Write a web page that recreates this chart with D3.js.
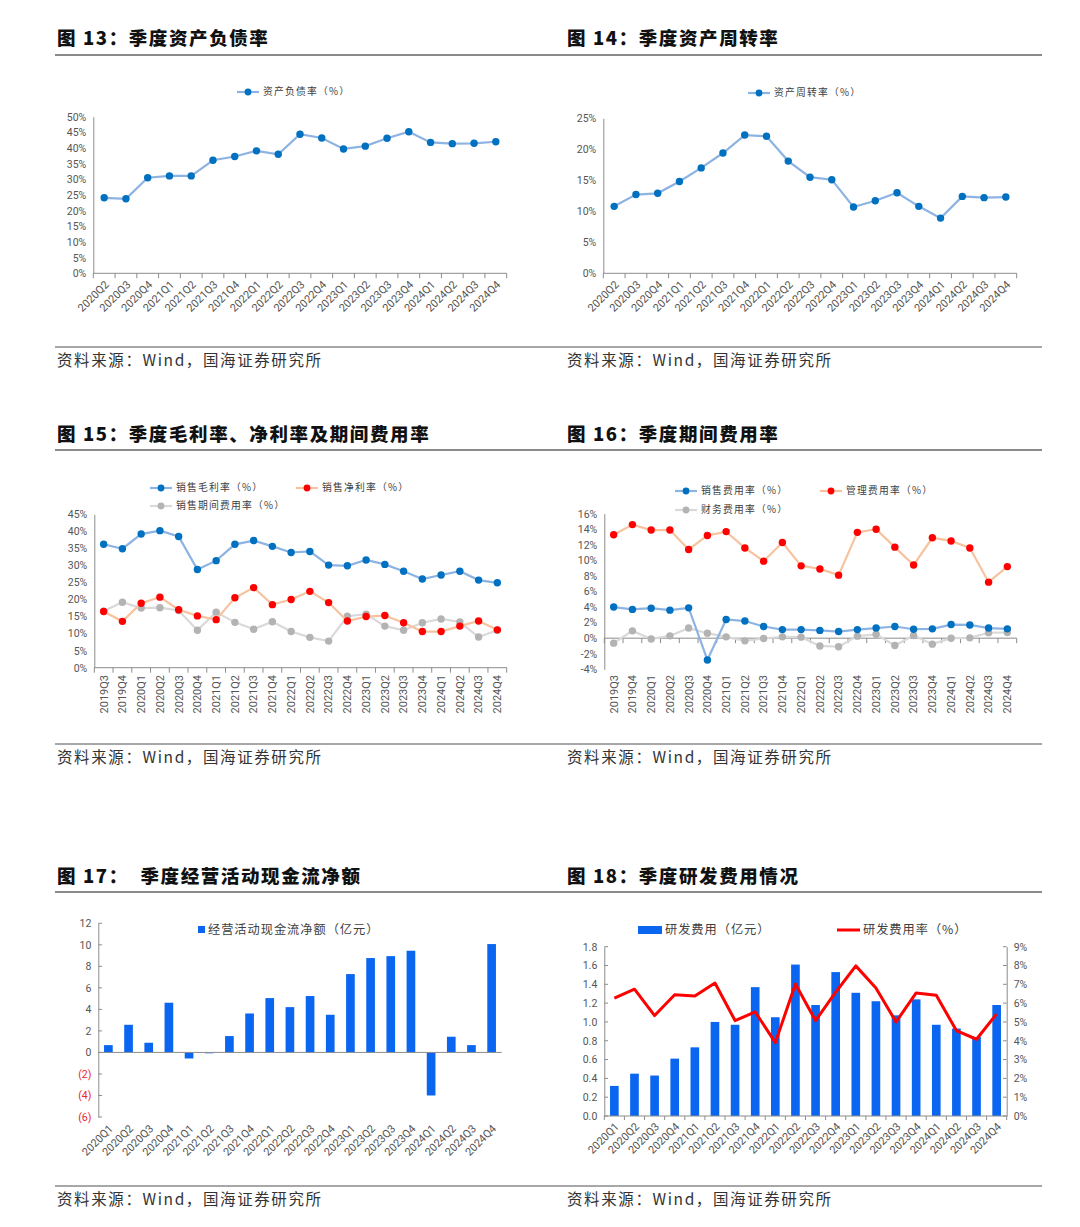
<!DOCTYPE html>
<html><head><meta charset="utf-8">
<script src="https://cdn.jsdelivr.net/npm/d3@7/dist/d3.min.js"></script>
<style>
html,body{margin:0;padding:0;background:#fff;}
svg{display:block;}
</style>
</head><body>
<svg id="chart" width="1080" height="1227"></svg>
<script>
// ---------------- DATA ----------------
const quartersA = ['2020Q2','2020Q3','2020Q4','2021Q1','2021Q2','2021Q3','2021Q4','2022Q1','2022Q2','2022Q3','2022Q4','2023Q1','2023Q2','2023Q3','2023Q4','2024Q1','2024Q2','2024Q3','2024Q4'];
const quartersB = ['2019Q3','2019Q4','2020Q1','2020Q2','2020Q3','2020Q4','2021Q1','2021Q2','2021Q3','2021Q4','2022Q1','2022Q2','2022Q3','2022Q4','2023Q1','2023Q2','2023Q3','2023Q4','2024Q1','2024Q2','2024Q3','2024Q4'];
const quartersC = ['2020Q1','2020Q2','2020Q3','2020Q4','2021Q1','2021Q2','2021Q3','2021Q4','2022Q1','2022Q2','2022Q3','2022Q4','2023Q1','2023Q2','2023Q3','2023Q4','2024Q1','2024Q2','2024Q3','2024Q4'];

// Fig 13 资产负债率 (%)
const debtRatio = [24.1,23.8,30.5,31.1,31.1,36.1,37.3,39.1,38.0,44.4,43.2,39.7,40.6,43.1,45.2,41.8,41.4,41.5,42.0];
// Fig 14 资产周转率 (%)
const assetTurnover = [10.8,12.7,12.9,14.8,17.0,19.4,22.3,22.1,18.1,15.5,15.1,10.7,11.7,13.0,10.8,8.9,12.4,12.2,12.3];
// Fig 15
const grossMargin = [36.2,34.9,39.2,40.2,38.5,28.8,31.4,36.2,37.3,35.6,33.8,34.1,30.1,29.9,31.6,30.3,28.3,26.0,27.2,28.3,25.7,24.9];
const netMargin = [16.5,13.6,18.9,20.7,17.0,15.2,14.1,20.5,23.5,18.5,20.0,22.4,19.1,13.7,15.0,15.3,13.2,10.6,10.6,12.2,13.7,11.1];
const periodExpenseRatio = [16.6,19.2,17.5,17.6,16.8,11.0,16.3,13.3,11.3,13.5,10.6,8.9,7.8,15.1,15.7,12.2,11.0,13.2,14.3,13.4,9.0,11.0];
// Fig 16
const salesExpenseRatio = [4.0,3.7,3.85,3.6,3.9,-2.8,2.4,2.2,1.5,1.1,1.1,1.0,0.85,1.1,1.3,1.5,1.15,1.2,1.75,1.7,1.3,1.2];
const adminExpenseRatio = [13.3,14.6,13.9,13.9,11.4,13.2,13.7,11.6,9.9,12.3,9.3,8.9,8.1,13.6,14.0,11.7,9.4,12.9,12.5,11.6,7.2,9.2];
const financeExpenseRatio = [-0.64,0.94,-0.1,0.3,1.3,0.64,0.17,-0.34,-0.04,0.17,0.13,-1.0,-1.1,0.26,0.5,-0.94,0.34,-0.77,0.0,0.04,0.7,0.73];
// Fig 17 经营活动现金流净额 (亿元)
const operatingCashFlow = [0.68,2.57,0.9,4.62,-0.56,-0.08,1.52,3.62,5.05,4.21,5.24,3.5,7.28,8.77,8.95,9.45,-4.0,1.46,0.68,10.07];
// Fig 18
const rdExpense = [0.32,0.45,0.43,0.61,0.73,1.00,0.97,1.37,1.05,1.61,1.18,1.53,1.31,1.22,1.07,1.24,0.97,0.93,0.84,1.18];
const rdRate = [6.26,6.74,5.34,6.45,6.38,7.07,5.07,5.53,3.9,7.02,5.07,6.58,7.98,6.81,5.0,6.54,6.42,4.54,4.08,5.43];

// tick values / labels
const ticks13 = [0,5,10,15,20,25,30,35,40,45,50];
const ticks14 = [0,5,10,15,20,25];
const ticks15 = [0,5,10,15,20,25,30,35,40,45];
const ticks16 = [-4,-2,0,2,4,6,8,10,12,14,16];
const ticks17 = [-6,-4,-2,0,2,4,6,8,10,12];
const ticks17Labels = ['(6)','(4)','(2)','0','2','4','6','8','10','12'];
const ticks18L = [0,0.2,0.4,0.6,0.8,1.0,1.2,1.4,1.6,1.8];
const ticks18R = [0,1,2,3,4,5,6,7,8,9];

const titles = ['图 13：季度资产负债率','图 14：季度资产周转率','图 15：季度毛利率、净利率及期间费用率','图 16：季度期间费用率','图 17：  季度经营活动现金流净额','图 18：季度研发费用情况'];
const sourceText = '资料来源：Wind，国海证券研究所';

// ---------------- STYLE ----------------
const svg = d3.select('#chart');
const TICKFONT = 'Roboto, "Noto Sans", sans-serif';
const CJK = '"Noto Sans CJK SC", sans-serif';
const AXIS = '#8c8c8c';
const TXT = '#555555';
const BLUE_L = '#8db3e2', BLUE_M = '#0070c0';
const RED_L = '#f7c29e', RED_M = '#ff0000';
const GRAY_L = '#d9d9d9', GRAY_M = '#b3b3b3';
const BAR = '#0a66f0';

svg.append('rect').attr('width',1080).attr('height',1227).attr('fill','#fff');

// headers & sources
const headerRows = [{ty:45, ry:55}, {ty:441, ry:450}, {ty:883, ry:892}];
const sourceRows = [347, 744, 1186];
headerRows.forEach((h,i)=>{
  svg.append('line').attr('x1',55).attr('x2',1042).attr('y1',h.ry).attr('y2',h.ry)
    .attr('stroke','#8a8a8a').attr('stroke-width',1.8);
  [57,567].forEach((x,j)=>{
    svg.append('text').attr('x',x).attr('y',h.ty).text(titles[i*2+j])
      .attr('font-family',CJK).attr('font-weight',900).attr('font-size',18.5)
      .attr('letter-spacing',1.6).attr('fill','#111').style('white-space','pre');
  });
});
sourceRows.forEach(y=>{
  svg.append('line').attr('x1',55).attr('x2',1042).attr('y1',y).attr('y2',y)
    .attr('stroke','#8a8a8a').attr('stroke-width',1.5);
  [57,567].forEach(x=>{
    svg.append('text').attr('x',x).attr('y',y+19).text(sourceText)
      .attr('font-family',CJK).attr('font-size',15.5).attr('letter-spacing',1.6).attr('fill','#333');
  });
});

// ---------------- HELPERS ----------------
function bandAxisTicks(g, x, yLine, len){
  const step = x.step(); const [r0] = x.range();
  for(let i=0;i<=x.domain().length;i++){
    const xx = r0 + i*step;
    g.append('line').attr('x1',xx).attr('x2',xx).attr('y1',yLine).attr('y2',yLine+len)
      .attr('stroke',AXIS).attr('stroke-width',1);
  }
}
function yAxis(g, y, x0, vals, fmt, side, color){
  const ax = (side==='right'? d3.axisRight(y) : d3.axisLeft(y))
    .tickValues(vals).tickFormat(fmt).tickSize(0).tickPadding(7);
  const a = g.append('g').attr('transform',`translate(${x0},0)`).call(ax);
  a.select('.domain').attr('stroke',AXIS).attr('stroke-width',1);
  a.selectAll('text').attr('font-family',TICKFONT).attr('font-size',10.5).attr('fill',color||TXT);
  return a;
}
function xLabels(g, x, cats, yPos, rot, size){
  const bw = x.bandwidth();
  g.selectAll(null).data(cats).enter().append('text')
    .attr('transform',d=>`translate(${x(d)+bw/2 + (rot===-45?3:0)},${yPos}) rotate(${rot})`)
    .attr('text-anchor','end').attr('dy', rot===-90?'0.35em':'0.3em')
    .attr('font-family',TICKFONT).attr('font-size',size||11).attr('fill',TXT).text(d=>d);
}
function series(g, x, y, cats, vals, lc, mc, r){
  const bw = x.bandwidth();
  const line = d3.line().x((d,i)=>x(cats[i])+bw/2).y(d=>y(d));
  g.append('path').attr('d',line(vals)).attr('fill','none').attr('stroke',lc).attr('stroke-width',2.2);
  g.selectAll(null).data(vals).enter().append('circle')
    .attr('cx',(d,i)=>x(cats[i])+bw/2).attr('cy',d=>y(d)).attr('r',r||3.7).attr('fill',mc);
}
function legendLine(g, x, y, lc, mc, label, size){
  g.append('line').attr('x1',x).attr('x2',x+22).attr('y1',y).attr('y2',y).attr('stroke',lc).attr('stroke-width',2.2);
  if(mc) g.append('circle').attr('cx',x+11).attr('cy',y).attr('r',3.4).attr('fill',mc);
  g.append('text').attr('x',x+26).attr('y',y).attr('dy','0.35em').text(label)
    .attr('font-family',CJK).attr('font-size',size||9.8).attr('letter-spacing',1.2).attr('fill','#404040');
}
const pct = d=>d+'%';

// ---------------- FIG 13 ----------------
(function(){
  const g = svg.append('g');
  const x = d3.scaleBand().domain(quartersA).range([93.3,506.7]);
  const y = d3.scaleLinear().domain([0,50]).range([273.3,116.7]);
  yAxis(g,y,93.3,ticks13,pct);
  g.append('line').attr('x1',93.3).attr('x2',506.7).attr('y1',273.3).attr('y2',273.3).attr('stroke',AXIS);
  bandAxisTicks(g,x,273.3,5);
  xLabels(g,x,quartersA,283,-45);
  series(g,x,y,quartersA,debtRatio,BLUE_L,BLUE_M);
  legendLine(g,237,92,BLUE_L,BLUE_M,'资产负债率（%）');
})();

// ---------------- FIG 14 ----------------
(function(){
  const g = svg.append('g');
  const x = d3.scaleBand().domain(quartersA).range([603.3,1016.7]);
  const y = d3.scaleLinear().domain([0,25]).range([273.3,118.3]);
  yAxis(g,y,603.3,ticks14,pct);
  g.append('line').attr('x1',603.3).attr('x2',1016.7).attr('y1',273.3).attr('y2',273.3).attr('stroke',AXIS);
  bandAxisTicks(g,x,273.3,5);
  xLabels(g,x,quartersA,283,-45);
  series(g,x,y,quartersA,assetTurnover,BLUE_L,BLUE_M);
  legendLine(g,748,93,BLUE_L,BLUE_M,'资产周转率（%）');
})();

// ---------------- FIG 15 ----------------
(function(){
  const g = svg.append('g');
  const x = d3.scaleBand().domain(quartersB).range([94.3,506.7]);
  const y = d3.scaleLinear().domain([0,45]).range([667.7,514.3]);
  yAxis(g,y,94.3,ticks15,pct);
  g.append('line').attr('x1',94.3).attr('x2',506.7).attr('y1',667.7).attr('y2',667.7).attr('stroke',AXIS);
  bandAxisTicks(g,x,667.7,5);
  xLabels(g,x,quartersB,675,-90);
  series(g,x,y,quartersB,periodExpenseRatio,GRAY_L,GRAY_M);
  series(g,x,y,quartersB,netMargin,RED_L,RED_M);
  series(g,x,y,quartersB,grossMargin,BLUE_L,BLUE_M);
  legendLine(g,150,488,BLUE_L,BLUE_M,'销售毛利率（%）');
  legendLine(g,296,488,RED_L,RED_M,'销售净利率（%）');
  legendLine(g,150,506,GRAY_L,GRAY_M,'销售期间费用率（%）');
})();

// ---------------- FIG 16 ----------------
(function(){
  const g = svg.append('g');
  const x = d3.scaleBand().domain(quartersB).range([604.3,1016.7]);
  const y = d3.scaleLinear().domain([-4,16]).range([669.3,513.7]);
  yAxis(g,y,604.3,ticks16,pct);
  g.append('line').attr('x1',604.3).attr('x2',1016.7).attr('y1',y(0)).attr('y2',y(0)).attr('stroke',AXIS);
  bandAxisTicks(g,x,y(0),5);
  xLabels(g,x,quartersB,675,-90);
  series(g,x,y,quartersB,financeExpenseRatio,GRAY_L,GRAY_M);
  series(g,x,y,quartersB,adminExpenseRatio,RED_L,RED_M);
  series(g,x,y,quartersB,salesExpenseRatio,BLUE_L,BLUE_M);
  legendLine(g,675,491,BLUE_L,BLUE_M,'销售费用率（%）');
  legendLine(g,820,491,RED_L,RED_M,'管理费用率（%）');
  legendLine(g,675,510,GRAY_L,GRAY_M,'财务费用率（%）');
})();

// ---------------- FIG 17 ----------------
(function(){
  const g = svg.append('g');
  const x = d3.scaleBand().domain(quartersC).range([98.3,501.7]).paddingInner(0.57).paddingOuter(0.285);
  const xb = d3.scaleBand().domain(quartersC).range([98.3,501.7]);
  const y = d3.scaleLinear().domain([-6,12]).range([1117,923.3]);
  const a = yAxis(g,y,98.3,ticks17,(d,i)=>ticks17Labels[i]);
  a.selectAll('text').attr('fill',d=>d<0?'#e8262b':TXT);
  ticks17.forEach(t=>g.append('line').attr('x1',98.3).attr('x2',102).attr('y1',y(t)).attr('y2',y(t)).attr('stroke',AXIS));
  g.selectAll(null).data(operatingCashFlow).enter().append('rect')
    .attr('x',(d,i)=>x(quartersC[i])).attr('width',x.bandwidth())
    .attr('y',d=>y(Math.max(0,d))).attr('height',d=>Math.abs(y(d)-y(0)))
    .attr('fill',BAR);
  g.append('line').attr('x1',98.3).attr('x2',501.7).attr('y1',y(0)).attr('y2',y(0)).attr('stroke',AXIS);
  xLabels(g,xb,quartersC,1127,-45);
  g.append('rect').attr('x',198).attr('y',926).attr('width',7).attr('height',7).attr('fill',BAR);
  g.append('text').attr('x',208).attr('y',930).attr('dy','0.35em').text('经营活动现金流净额（亿元）')
    .attr('font-family',CJK).attr('font-size',12.2).attr('letter-spacing',1).attr('fill','#404040');
})();

// ---------------- FIG 18 ----------------
(function(){
  const g = svg.append('g');
  const x = d3.scaleBand().domain(quartersC).range([604.3,1006.7]).paddingInner(0.57).paddingOuter(0.285);
  const xb = d3.scaleBand().domain(quartersC).range([604.3,1006.7]);
  const y = d3.scaleLinear().domain([0,1.8]).range([1116,946.7]);
  const y2 = d3.scaleLinear().domain([0,9]).range([1116,946.7]);
  yAxis(g,y,604.3,ticks18L,d3.format('.1f'));
  yAxis(g,y2,1006.7,ticks18R,pct,'right');
  ticks18L.forEach(t=>g.append('line').attr('x1',604.3).attr('x2',608).attr('y1',y(t)).attr('y2',y(t)).attr('stroke',AXIS));
  ticks18R.forEach(t=>g.append('line').attr('x1',1003).attr('x2',1006.7).attr('y1',y2(t)).attr('y2',y2(t)).attr('stroke',AXIS));
  g.selectAll(null).data(rdExpense).enter().append('rect')
    .attr('x',(d,i)=>x(quartersC[i])).attr('width',x.bandwidth())
    .attr('y',d=>y(d)).attr('height',d=>y(0)-y(d)).attr('fill',BAR);
  g.append('line').attr('x1',604.3).attr('x2',1006.7).attr('y1',1116).attr('y2',1116).attr('stroke',AXIS);
  bandAxisTicks(g,xb,1116,4);
  xLabels(g,xb,quartersC,1125,-45);
  const line = d3.line().x((d,i)=>xb(quartersC[i])+xb.bandwidth()/2).y(d=>y2(d));
  g.append('path').attr('d',line(rdRate)).attr('fill','none').attr('stroke','#ff0000').attr('stroke-width',3).attr('stroke-linejoin','round');
  g.append('rect').attr('x',638).attr('y',926).attr('width',24).attr('height',8).attr('fill',BAR);
  g.append('text').attr('x',665).attr('y',930).attr('dy','0.35em').text('研发费用（亿元）')
    .attr('font-family',CJK).attr('font-size',12.2).attr('letter-spacing',1).attr('fill','#404040');
  g.append('line').attr('x1',837).attr('x2',860).attr('y1',930).attr('y2',930).attr('stroke','#ff0000').attr('stroke-width',3);
  g.append('text').attr('x',863).attr('y',930).attr('dy','0.35em').text('研发费用率（%）')
    .attr('font-family',CJK).attr('font-size',12.2).attr('letter-spacing',1).attr('fill','#404040');
})();
</script>
</body></html>
